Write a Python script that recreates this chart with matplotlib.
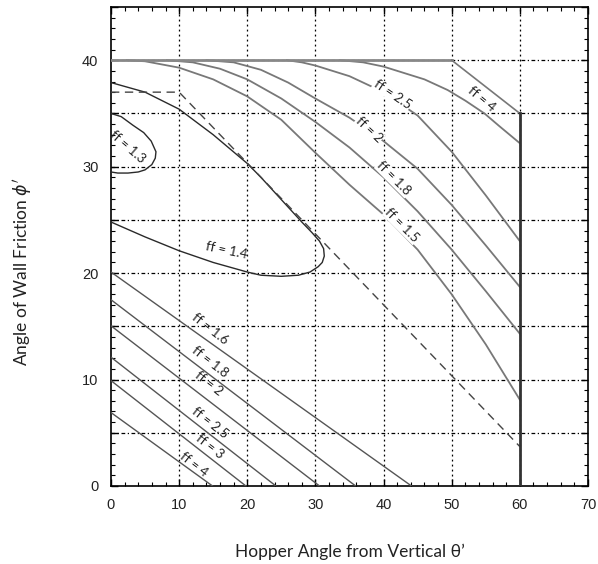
import matplotlib
matplotlib.use('Agg')
import matplotlib.pyplot as plt
from matplotlib.ticker import MultipleLocator, FuncFormatter

# upper (curved) family: hopper angle theta' vs wall friction phi'
ff4_x = [33.6, 37, 40, 42.5, 46, 49.4, 52, 54.8, 57, 60]
ff4_y = [40, 39.8, 39.4, 38.9, 38.2, 37.2, 36.2, 35.0, 33.8, 32.2]
ff25_x = [25.8, 28, 30, 35, 40, 45, 50, 55, 60]
ff25_y = [40, 39.8, 39.5, 38.5, 37.0, 34.8, 31.4, 27.3, 23.0]
ff2_x = [14, 18, 22, 26, 30, 35, 40, 45, 50, 55, 60]
ff2_y = [40, 39.8, 39.1, 37.9, 36.4, 34.6, 32.4, 29.8, 26.4, 22.6, 18.7]
ff18_x = [8.2, 12, 16, 20, 25, 30, 35, 40, 45, 50, 55, 60]
ff18_y = [40, 39.8, 39.2, 38.2, 36.4, 34.2, 31.8, 29.0, 25.8, 22.2, 18.3, 14.3]
ff15_x = [2.3, 5, 10, 15, 20, 25, 30, 35, 40, 45, 50, 55, 60]
ff15_y = [40, 39.9, 39.3, 38.2, 36.6, 34.4, 31.3, 28.3, 25.5, 22.2, 18.0, 13.3, 8.1]

ff14_x = [0, 5, 10, 15, 20, 22, 24, 26, 28, 29.5, 30.6, 31.2, 31.3, 31.0, 30.4, 29.2, 27.5, 25, 22, 20, 15, 10, 5, 0]
ff14_y = [37.9, 37.0, 35.4, 33.0, 30.3, 29.0, 27.6, 26.2, 24.8, 23.8, 23.0, 22.3, 21.6, 21.0, 20.6, 20.1, 19.8, 19.7, 19.8, 20.1, 21.0, 22.1, 23.4, 24.8]
ff13_x = [0, 1.5, 3.2, 4.8, 5.9, 6.6, 6.5, 6.0, 5.0, 4.0, 2.5, 1.0, 0]
ff13_y = [35.0, 34.7, 33.9, 33.2, 32.4, 31.4, 30.8, 30.2, 29.7, 29.5, 29.4, 29.4, 29.5]

# lower (straight) family: phi' at theta'=0 and theta' at phi'=0
low_ff = ['1.6', '1.8', '2', '2.5', '3', '4']
low_phi0 = [20.1, 17.5, 15.05, 12.1, 9.9, 6.9]
low_theta0 = [44.1, 35.9, 30.6, 24.2, 19.8, 14.9]

# limit lines
top_x = [0, 50]
top_y = [40, 40]
diag_x = [50, 60]
diag_y = [40, 35]
wall_x = [60, 60]
wall_y = [35, 0]
dash_x = [0, 10, 60]
dash_y = [37, 37, 3.7]

# label text, position (theta', phi'), screen angle, white backing
labels = [
    ('ff = 4', 54.4, 36.4, -40, False),
    ('ff = 2.5', 41.3, 36.8, -34, True),
    ('ff = 2', 37.9, 33.5, -43, True),
    ('ff = 1.8', 41.5, 28.9, -45, True),
    ('ff = 1.5', 42.7, 24.5, -45, True),
    ('ff = 1.3', 2.4, 31.9, -41, False),
    ('ff = 1.4', 17.0, 22.1, -12, False),
    ('ff = 1.6', 14.5, 14.8, -38, False),
    ('ff = 1.8', 14.5, 11.7, -38, False),
    ('ff = 2', 14.4, 9.65, -38, False),
    ('ff = 2.5', 14.5, 5.9, -38, False),
    ('ff = 3', 14.5, 3.7, -38, False),
    ('ff = 4', 12.1, 2.0, -38, False),
]

fig = plt.figure(figsize=(5.98, 5.64), dpi=100)
ax = fig.add_axes([0.1856, 0.1383, 0.7977, 0.8493])

ax.set_xlim(0, 70)
ax.set_ylim(0, 45)

# grid
for gx in range(10, 70, 10):
    ax.axvline(gx, color='black', lw=0.9, ls=(0, (1.5, 2.5)), zorder=1)
for gy in range(5, 45, 5):
    ax.axhline(gy, color='black', lw=0.9, ls=(0, (3, 2, 1, 2)), zorder=1)

curve_gray = '#787878'
for xs, ys in [(ff4_x, ff4_y), (ff25_x, ff25_y), (ff2_x, ff2_y),
               (ff18_x, ff18_y), (ff15_x, ff15_y)]:
    ax.plot(xs, ys, color=curve_gray, lw=1.3, zorder=3)

ax.plot(ff14_x, ff14_y, color='#2a2a2a', lw=1.0, zorder=3)
ax.plot(ff13_x, ff13_y, color='#2a2a2a', lw=1.0, zorder=3)

for p0, t0 in zip(low_phi0, low_theta0):
    ax.plot([0, t0], [p0, 0], color='#555555', lw=1.0, zorder=3)

ax.plot(top_x, top_y, color='#888888', lw=2.0, zorder=3)
ax.plot(diag_x, diag_y, color='#777777', lw=1.2, zorder=3)
ax.plot(wall_x, wall_y, color='#333333', lw=2.0, zorder=4)
ax.plot(dash_x, dash_y, color='#444444', lw=1.0, ls=(0, (6, 4)), zorder=3)

for txt, lx, ly, rot, backed in labels:
    t = ax.text(lx, ly, txt, rotation=rot, rotation_mode='anchor',
                ha='center', va='center', fontsize=9.5, color='#222222',
                family=['Lato', 'DejaVu Sans'], zorder=5, clip_on=False)
    if backed:
        t.set_bbox(dict(facecolor='white', edgecolor='none', pad=0.5))

# ticks
ax.xaxis.set_major_locator(MultipleLocator(10))
ax.xaxis.set_minor_locator(MultipleLocator(2))
ax.yaxis.set_major_locator(MultipleLocator(5))
ax.yaxis.set_minor_locator(MultipleLocator(1))
ax.yaxis.set_major_formatter(FuncFormatter(lambda v, p: '%d' % v if v % 10 == 0 and v <= 40 else ''))
ax.tick_params(which='both', direction='in', top=True, right=True,
               colors='black', labelcolor='#222222')
ax.tick_params(which='major', length=5, width=1, labelsize=10.5, pad=9)
ax.tick_params(which='minor', length=3, width=0.8)
for lab in ax.get_xticklabels() + ax.get_yticklabels():
    lab.set_family('Liberation Sans')
for sp in ax.spines.values():
    sp.set_linewidth(1.2)

fig.text(350 / 598, 1 - 552 / 564, 'Hopper Angle from Vertical θ’',
         ha='center', va='center', fontsize=12.5,
         family=['Lato', 'DejaVu Sans'], color='#222222')
fig.text(22 / 598, 1 - 272 / 564, "Angle of Wall Friction $\\phi'$",
         ha='center', va='center', rotation=90, fontsize=12.5,
         family=['Lato', 'DejaVu Sans'], color='#222222')

fig.savefig('out.png', dpi=100)
